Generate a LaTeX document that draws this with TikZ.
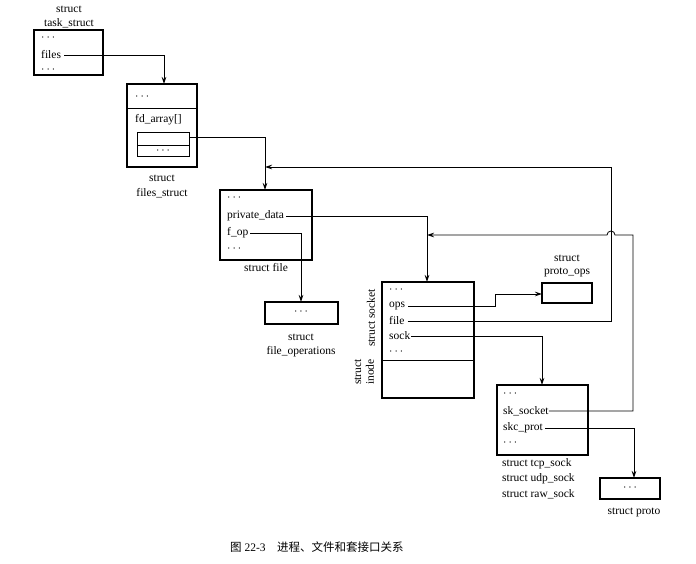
\documentclass[tikz,border=0pt]{standalone}
\usepackage{fontspec}
\setmainfont{Liberation Serif}
\newfontfamily\cjk{Noto Sans CJK SC}
\usetikzlibrary{arrows.meta}
\begin{document}
\begin{tikzpicture}[x=1pt,y=-1pt,
  box/.style={draw,line width=1.1pt},
  t/.style={font=\fontsize{11.5}{13}\selectfont,inner sep=0pt},
  tl/.style={t,anchor=west},
  ar/.style={-{Stealth[length=7pt,width=4.5pt]},line width=0.8pt},
  ln/.style={line width=0.8pt}]
\useasboundingbox (0,0) rectangle (696,564);
% task_struct
\node[t] at (69,9) {struct};
\node[t] at (69,23) {task\_struct};
\draw[box] (34,30) rectangle (103,75);
\node[tl] at (41,38) {$\cdots$};
\node[tl] (files) at (41,55) {files};
\node[tl] at (41,70) {$\cdots$};
% files_struct
\draw[box] (127,84) rectangle (197,167);
\draw[ln] (127,108) -- (197,108);
\node[tl] at (135,97) {$\cdots$};
\node[tl] at (135,120) {fd\_array[]};
\draw[ln] (137,132) rectangle (189,156);
\draw[ln] (137,145) -- (189,145);
\node[t] at (163,150.5) {$\cdots$};
\node[t] at (162,178) {struct};
\node[t] at (162,193) {files\_struct};
% file
\draw[box] (220,190) rectangle (312,260);
\node[tl] at (227,198) {$\cdots$};
\node[tl] (pd) at (227,216) {private\_data};
\node[tl] (fop) at (227,233) {f\_op};
\node[tl] at (227,249) {$\cdots$};
\node[t] at (266,268) {struct file};
% file_operations
\draw[box] (265,302) rectangle (338,324);
\node[t] at (301,312) {$\cdots$};
\node[t] at (301,337) {struct};
\node[t] at (301,352) {file\_operations};
% socket
\draw[box] (382,282) rectangle (474,398);
\draw[ln] (382,360) -- (474,360);
\node[tl] at (389,290) {$\cdots$};
\node[tl] (ops) at (389,306) {ops};
\node[tl] (sfile) at (389,321) {file};
\node[tl] (sock) at (389,336) {sock};
\node[tl] at (389,352) {$\cdots$};
\node[t,rotate=90] at (371,318) {struct socket};
\node[t,rotate=90] at (358,372) {struct};
\node[t,rotate=90] at (370,372) {inode};
% proto_ops
\node[t] at (567,258) {struct};
\node[t] at (567,272) {proto\_ops};
\draw[box] (542,283) rectangle (592,303);
% tcp_sock
\draw[box] (497,385) rectangle (588,455);
\node[tl] at (503,394) {$\cdots$};
\node[tl] (sks) at (503,411) {sk\_socket};
\node[tl] (skp) at (503,428) {skc\_prot};
\node[tl] at (503,443) {$\cdots$};
\node[tl] at (502,464) {struct tcp\_sock};
\node[tl] at (502,479) {struct udp\_sock};
\node[tl] at (502,494) {struct raw\_sock};
% proto
\draw[box] (600,478) rectangle (660,499);
\node[t] at (630,488) {$\cdots$};
\node[t] at (634,512) {struct proto};
% connectors
\draw[ar] (files.east) ++(3,0) -- (164,55) -- (164,84);
\draw[ar] (189,137) -- (265,137) -- (265,190);
\draw[ar] (pd.east) ++(2,0) -- (427,216) -- (427,282);
\draw[ar] (fop.east) ++(2,0) -- (301,233) -- (301,302);
\draw[ar] (ops.east) ++(3,0) -- (495,306) -- (495,294) -- (542,294);
\draw[ar] (sfile.east) ++(3,0) -- (611,321) -- (611,167) -- (265,167);
\draw[ar] (sock.east) ++(1,0) -- (542,336) -- (542,385);
\draw[ar] (sks.east) -- (633,411) -- (633,235) -- (615,235) arc (0:-180:4) -- (427,235);
\draw[ar] (skp.east) ++(2,0) -- (634,428) -- (634,478);
% caption
\node[t,anchor=west] at (230,547) {{\cjk 图} 22-3\quad{\cjk 进程、文件和套接口关系}};
\end{tikzpicture}
\end{document}
